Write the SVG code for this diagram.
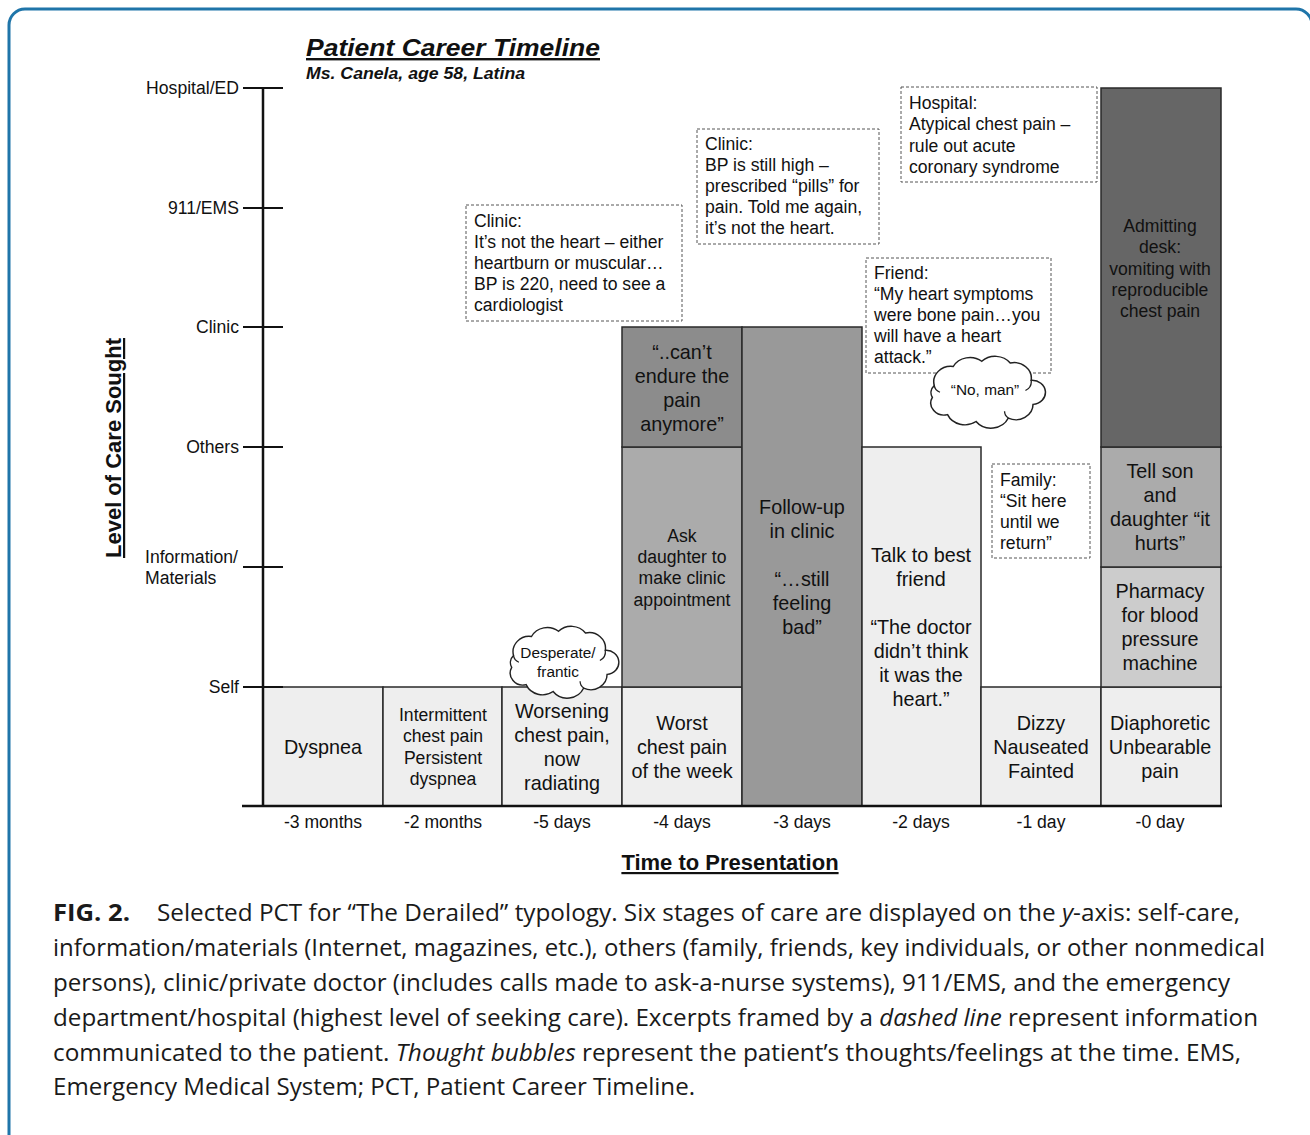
<svg xmlns="http://www.w3.org/2000/svg" width="1310" height="1135" viewBox="0 0 1310 1135">
<style>
.t{font-family:"Liberation Sans",Arial,sans-serif;fill:#111}
.b18{font-size:19.8px;text-anchor:middle}
.b16{font-size:17.6px;text-anchor:middle}
.ax{font-size:17.6px}
.dash{fill:#fff;stroke:#555;stroke-width:1;stroke-dasharray:3 2}
.box{stroke:#2a2a2a;stroke-width:1.5}
.l1{fill:#eeeeee}.l2{fill:#cccccc}.l3{fill:#ababab}.l4{fill:#999999}.l5{fill:#8c8c8c}.l6{fill:#666666}
.cap{font-family:"Open Sans","Noto Sans",sans-serif;font-size:23px;fill:#1a1a1a}
.cloud{fill:#fff;stroke:#222;stroke-width:1.6}
.curl{fill:none;stroke:#222;stroke-width:1.4}
</style>
<defs>
<path id="cloudShape" d="M -45,-10 a 18,18 0 0 1 20,-22 a 20,20 0 0 1 30,-6 a 20,20 0 0 1 30,2 a 18,18 0 0 1 22,20 a 14,14 0 0 1 2,28 a 18,18 0 0 1 -26,16 a 20,20 0 0 1 -34,4 a 20,20 0 0 1 -30,-8 a 14,14 0 0 1 -16,-20 a 12,12 0 0 1 2,-14 z"/>
<path id="cloudCurls" d="M -45,-10 a 10,10 0 0 0 6,8 M 57,-16 a 12,12 0 0 1 -6,12 M 33,28 a 10,10 0 0 1 -4,-8"/>
</defs>
<rect x="9" y="9" width="1303" height="1150" rx="16" fill="#fff" stroke="#1f75a9" stroke-width="3"/>

<g id="title">
<text class="t" x="306" y="56" font-size="24" font-weight="bold" font-style="italic" text-decoration="underline" textLength="294" lengthAdjust="spacingAndGlyphs">Patient Career Timeline</text>
<text class="t" x="306" y="79" font-size="16" font-weight="bold" font-style="italic" textLength="219" lengthAdjust="spacingAndGlyphs">Ms. Canela, age 58, Latina</text>
</g>

<g id="boxes">
<g id="col1"><rect class="box l1" x="263" y="687" width="120" height="119"/>
<text class="t b18" x="323" y="754">Dyspnea</text></g>
<g id="col2"><rect class="box l1" x="383" y="687" width="119" height="119"/>
<text class="t b16" x="443" y="721">Intermittent</text><text class="t b16" x="443" y="742">chest pain</text><text class="t b16" x="443" y="764">Persistent</text><text class="t b16" x="443" y="785">dyspnea</text></g>
<g id="col3"><rect class="box l1" x="502" y="687" width="120" height="119"/>
<text class="t b18" x="562" y="718">Worsening</text><text class="t b18" x="562" y="742">chest pain,</text><text class="t b18" x="562" y="766">now</text><text class="t b18" x="562" y="790">radiating</text></g>
<g id="col4a"><rect class="box l1" x="622" y="687" width="120" height="119"/>
<text class="t b18" x="682" y="730">Worst</text><text class="t b18" x="682" y="754">chest pain</text><text class="t b18" x="682" y="778">of the week</text></g>
<g id="col4b"><rect class="box l3" x="622" y="447" width="120" height="240"/>
<text class="t b16" x="682" y="542">Ask</text><text class="t b16" x="682" y="563">daughter to</text><text class="t b16" x="682" y="584">make clinic</text><text class="t b16" x="682" y="606">appointment</text></g>
<g id="col4c"><rect class="box l5" x="622" y="327" width="120" height="120"/>
<text class="t b18" x="682" y="359">“..can’t</text><text class="t b18" x="682" y="383">endure the</text><text class="t b18" x="682" y="407">pain</text><text class="t b18" x="682" y="431">anymore”</text></g>
<g id="col5"><rect class="box l4" x="742" y="327" width="120" height="479"/>
<text class="t b18" x="802" y="514">Follow-up</text><text class="t b18" x="802" y="538">in clinic</text><text class="t b18" x="802" y="586">“…still</text><text class="t b18" x="802" y="610">feeling</text><text class="t b18" x="802" y="634">bad”</text></g>
<g id="col6"><rect class="box l1" x="862" y="447" width="119" height="359"/>
<text class="t b18" x="921" y="562">Talk to best</text><text class="t b18" x="921" y="586">friend</text><text class="t b18" x="921" y="634">“The doctor</text><text class="t b18" x="921" y="658">didn’t think</text><text class="t b18" x="921" y="682">it was the</text><text class="t b18" x="921" y="706">heart.”</text></g>
<g id="col7"><rect class="box l1" x="981" y="687" width="120" height="119"/>
<text class="t b18" x="1041" y="730">Dizzy</text><text class="t b18" x="1041" y="754">Nauseated</text><text class="t b18" x="1041" y="778">Fainted</text></g>
<g id="col8a"><rect class="box l1" x="1101" y="687" width="120" height="119"/>
<text class="t b18" x="1160" y="730">Diaphoretic</text><text class="t b18" x="1160" y="754">Unbearable</text><text class="t b18" x="1160" y="778">pain</text></g>
<g id="col8b"><rect class="box l2" x="1101" y="567" width="120" height="120"/>
<text class="t b18" x="1160" y="598">Pharmacy</text><text class="t b18" x="1160" y="622">for blood</text><text class="t b18" x="1160" y="646">pressure</text><text class="t b18" x="1160" y="670">machine</text></g>
<g id="col8c"><rect class="box l3" x="1101" y="447" width="120" height="120"/>
<text class="t b18" x="1160" y="478">Tell son</text><text class="t b18" x="1160" y="502">and</text><text class="t b18" x="1160" y="526">daughter “it</text><text class="t b18" x="1160" y="550">hurts”</text></g>
<g id="col8d"><rect class="box l6" x="1101" y="88" width="120" height="359"/>
<text class="t b16" x="1160" y="232">Admitting</text><text class="t b16" x="1160" y="253">desk:</text><text class="t b16" x="1160" y="275">vomiting with</text><text class="t b16" x="1160" y="296">reproducible</text><text class="t b16" x="1160" y="317">chest pain</text></g>
</g>

<g id="connectors">
<line x1="263" y1="88" x2="263" y2="807" stroke="#111" stroke-width="2.5"/>
<line x1="242" y1="806" x2="1222" y2="806" stroke="#111" stroke-width="2.5"/>
<g stroke="#111" stroke-width="2">
<line x1="243" y1="88" x2="283" y2="88"/>
<line x1="243" y1="208" x2="283" y2="208"/>
<line x1="243" y1="327" x2="283" y2="327"/>
<line x1="243" y1="447" x2="283" y2="447"/>
<line x1="243" y1="567" x2="283" y2="567"/>
<line x1="243" y1="687" x2="283" y2="687"/>
</g>
</g>

<g id="yaxis-labels" class="t ax">
<text x="239" y="94" text-anchor="end">Hospital/ED</text>
<text x="239" y="214" text-anchor="end">911/EMS</text>
<text x="239" y="333" text-anchor="end">Clinic</text>
<text x="239" y="453" text-anchor="end">Others</text>
<text x="145" y="563">Information/</text>
<text x="145" y="584">Materials</text>
<text x="239" y="693" text-anchor="end">Self</text>
</g>
<text id="yaxis-title" class="t" transform="translate(121,448) rotate(-90)" text-anchor="middle" font-size="22" font-weight="bold" text-decoration="underline" textLength="220" lengthAdjust="spacingAndGlyphs">Level of Care Sought</text>

<g id="xaxis-labels" class="t ax" text-anchor="middle">
<text x="323" y="828">-3 months</text>
<text x="443" y="828">-2 months</text>
<text x="562" y="828">-5 days</text>
<text x="682" y="828">-4 days</text>
<text x="802" y="828">-3 days</text>
<text x="921" y="828">-2 days</text>
<text x="1041" y="828">-1 day</text>
<text x="1160" y="828">-0 day</text>
</g>
<text id="xaxis-title" class="t" x="730" y="870" text-anchor="middle" font-size="22" font-weight="bold" text-decoration="underline">Time to Presentation</text>

<g id="note-clinic1"><rect class="dash" x="466" y="205" width="216" height="116"/>
<g class="t ax"><text x="474" y="227">Clinic:</text><text x="474" y="248">It’s not the heart – either</text><text x="474" y="269">heartburn or muscular…</text><text x="474" y="290">BP is 220, need to see a</text><text x="474" y="311">cardiologist</text></g></g>
<g id="note-clinic2"><rect class="dash" x="697" y="129" width="182" height="115"/>
<g class="t ax"><text x="705" y="150">Clinic:</text><text x="705" y="171">BP is still high –</text><text x="705" y="192">prescribed “pills” for</text><text x="705" y="213">pain. Told me again,</text><text x="705" y="234">it’s not the heart.</text></g></g>
<g id="note-hospital"><rect class="dash" x="901" y="87" width="196" height="95"/>
<g class="t ax"><text x="909" y="109">Hospital:</text><text x="909" y="130">Atypical chest pain –</text><text x="909" y="152">rule out acute</text><text x="909" y="173">coronary syndrome</text></g></g>
<g id="note-friend"><rect class="dash" x="866" y="258" width="185" height="115"/>
<g class="t ax"><text x="874" y="279">Friend:</text><text x="874" y="300">“My heart symptoms</text><text x="874" y="321">were bone pain…you</text><text x="874" y="342">will have a heart</text><text x="874" y="363">attack.”</text></g></g>
<g id="note-family"><rect class="dash" x="992" y="464" width="98" height="94"/>
<g class="t ax"><text x="1000" y="486">Family:</text><text x="1000" y="507">“Sit here</text><text x="1000" y="528">until we</text><text x="1000" y="549">return”</text></g></g>

<g id="thought-desperate">
<g transform="translate(554,664) scale(0.9,0.86)"><use href="#cloudShape" class="cloud"/><use href="#cloudCurls" class="curl"/></g>
<text class="t" x="558" y="658" font-size="15.4" text-anchor="middle">Desperate/</text>
<text class="t" x="558" y="677" font-size="15.4" text-anchor="middle">frantic</text>
</g>
<g id="thought-noman">
<g transform="translate(977,394) scale(0.95,0.86)"><use href="#cloudShape" class="cloud"/><use href="#cloudCurls" class="curl"/></g>
<text class="t" x="985" y="395" font-size="15.4" text-anchor="middle">“No, man”</text>
</g>

<g id="caption">
<text class="cap" x="53" y="921" font-weight="bold" textLength="77" lengthAdjust="spacingAndGlyphs">FIG. 2.</text>
<text class="cap" x="157" y="921" textLength="1083" lengthAdjust="spacingAndGlyphs">Selected PCT for “The Derailed” typology. Six stages of care are displayed on the <tspan font-style="italic">y</tspan>-axis: self-care,</text>
<text class="cap" x="53" y="956" textLength="1212" lengthAdjust="spacingAndGlyphs">information/materials (Internet, magazines, etc.), others (family, friends, key individuals, or other nonmedical</text>
<text class="cap" x="53" y="991" textLength="1177" lengthAdjust="spacingAndGlyphs">persons), clinic/private doctor (includes calls made to ask-a-nurse systems), 911/EMS, and the emergency</text>
<text class="cap" x="53" y="1026" textLength="1205" lengthAdjust="spacingAndGlyphs">department/hospital (highest level of seeking care). Excerpts framed by a <tspan font-style="italic">dashed line</tspan> represent information</text>
<text class="cap" x="53" y="1061" textLength="1188" lengthAdjust="spacingAndGlyphs">communicated to the patient. <tspan font-style="italic">Thought bubbles</tspan> represent the patient’s thoughts/feelings at the time. EMS,</text>
<text class="cap" x="53" y="1095" textLength="642" lengthAdjust="spacingAndGlyphs">Emergency Medical System; PCT, Patient Career Timeline.</text>
</g>
</svg>
